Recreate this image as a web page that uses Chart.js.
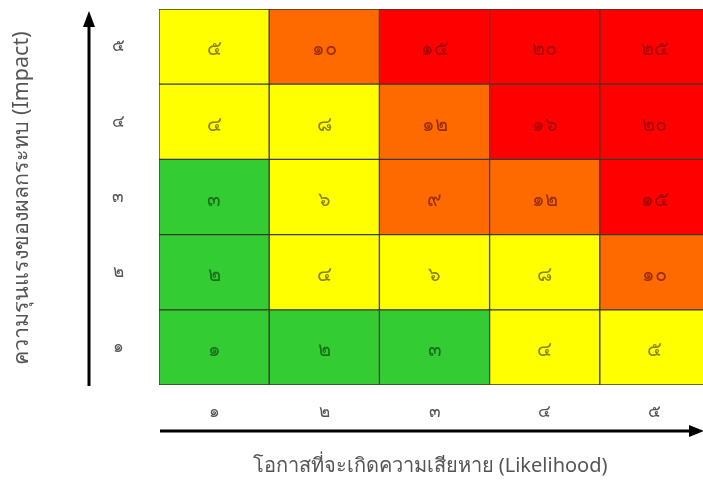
<!DOCTYPE html>
<html>
<head>
<meta charset="utf-8">
<script src="https://cdn.jsdelivr.net/npm/chart.js@4"></script>
<style>
  html, body { margin: 0; padding: 0; background: #fff; overflow: hidden; }
  #wrap { width: 720px; height: 483px; }
</style>
</head>
<body>
<div id="wrap"><canvas id="riskCanvas"></canvas></div>
<script>
// likelihood (x) and impact (y) labels, Thai numerals
const likelihood = ['๑', '๒', '๓', '๔', '๕'];
const impact = ['๑', '๒', '๓', '๔', '๕'];

// score in each cell, row = impact 1..5, column = likelihood 1..5
const score1 = ['๑', '๒', '๓', '๔', '๕'];
const score2 = ['๒', '๔', '๖', '๘', '๑๐'];
const score3 = ['๓', '๖', '๙', '๑๒', '๑๕'];
const score4 = ['๔', '๘', '๑๒', '๑๖', '๒๐'];
const score5 = ['๕', '๑๐', '๑๕', '๒๐', '๒๕'];

// risk level of each cell (G low, Y medium, O high, R very high)
const level1 = ['G', 'G', 'G', 'Y', 'Y'];
const level2 = ['G', 'Y', 'Y', 'Y', 'O'];
const level3 = ['G', 'Y', 'O', 'O', 'R'];
const level4 = ['Y', 'Y', 'O', 'R', 'R'];
const level5 = ['Y', 'O', 'R', 'R', 'R'];

const xTitle = 'โอกาสที่จะเกิดความเสียหาย (Likelihood)';
const yTitle = 'ความรุนแรงของผลกระทบ (Impact)';

const scores = [score1, score2, score3, score4, score5];
const levels = [level1, level2, level3, level4, level5];

const fill = { G: '#33cc33', Y: '#ffff00', O: '#ff6a00', R: '#ff0000' };
const ink = { G: '#1c6e1c', Y: '#8a8400', O: '#992e00', R: '#a80000' };

const datasets = levels.map((row, i) => ({
    label: 'impact ' + impact[i],
    data: row.map(() => 1),
    backgroundColor: row.map(l => fill[l]),
    borderColor: '#3a3a2a',
    borderWidth: 1,
    borderSkipped: false,
    categoryPercentage: 1,
    barPercentage: 1
}));

const cellText = {
    id: 'cellText',
    afterDatasetsDraw(chart) {
        const ctx = chart.ctx;
        ctx.save();
        ctx.font = '20px "Noto Sans", sans-serif';
        ctx.textAlign = 'center';
        ctx.textBaseline = 'middle';
        chart.data.datasets.forEach((ds, i) => {
            chart.getDatasetMeta(i).data.forEach((bar, j) => {
                const p = bar.getProps(['x', 'y', 'base'], true);
                ctx.fillStyle = ink[levels[i][j]];
                ctx.fillText(scores[i][j], p.x, (p.y + p.base) / 2 + 3);
            });
        });
        ctx.restore();
    }
};

const axesDeco = {
    id: 'axesDeco',
    afterDraw(chart) {
        const ctx = chart.ctx;
        const a = chart.chartArea;
        const xs = chart.scales.x;
        const ys = chart.scales.y;
        ctx.save();
        // tick labels
        ctx.fillStyle = '#555';
        ctx.font = '17px "Noto Sans", sans-serif';
        ctx.textAlign = 'center';
        ctx.textBaseline = 'middle';
        likelihood.forEach((t, i) => ctx.fillText(t, xs.getPixelForValue(i), a.bottom + 27));
        impact.forEach((t, i) => ctx.fillText(t, a.left - 41, ys.getPixelForValue(i + 0.5)));
        // y arrow
        ctx.strokeStyle = '#000';
        ctx.fillStyle = '#000';
        ctx.lineWidth = 3;
        const ax = a.left - 70;
        ctx.beginPath();
        ctx.moveTo(ax, a.bottom + 1);
        ctx.lineTo(ax, a.top + 14);
        ctx.stroke();
        ctx.beginPath();
        ctx.moveTo(ax, a.top + 2);
        ctx.lineTo(ax - 6, a.top + 18);
        ctx.lineTo(ax + 6, a.top + 18);
        ctx.closePath();
        ctx.fill();
        // x arrow
        const ay = a.bottom + 46;
        ctx.beginPath();
        ctx.moveTo(a.left + 1, ay);
        ctx.lineTo(692, ay);
        ctx.stroke();
        ctx.beginPath();
        ctx.moveTo(704, ay);
        ctx.lineTo(689, ay - 6);
        ctx.lineTo(689, ay + 6);
        ctx.closePath();
        ctx.fill();
        // titles
        ctx.fillStyle = '#555';
        ctx.font = '20px "Noto Sans", sans-serif';
        ctx.fillText(xTitle, 430, 466);
        ctx.font = '21.5px "Noto Sans", sans-serif';
        ctx.translate(22, 198);
        ctx.rotate(-Math.PI / 2);
        ctx.fillText(yTitle, 0, 0);
        ctx.restore();
    }
};

new Chart(document.getElementById('riskCanvas'), {
    type: 'bar',
    data: { labels: likelihood, datasets: datasets },
    options: {
        responsive: true,
        maintainAspectRatio: false,
        animation: false,
        layout: { padding: { left: 159, top: 9, right: 10, bottom: 98 } },
        plugins: { legend: { display: false }, tooltip: { enabled: false } },
        scales: {
            x: {
                stacked: true,
                grid: { display: false, drawTicks: false },
                border: { display: false },
                ticks: { display: false }
            },
            y: {
                stacked: true,
                min: 0,
                max: 5,
                grid: { display: false, drawTicks: false },
                border: { display: false },
                ticks: { display: false }
            }
        }
    },
    plugins: [cellText, axesDeco]
});
</script>
</body>
</html>
